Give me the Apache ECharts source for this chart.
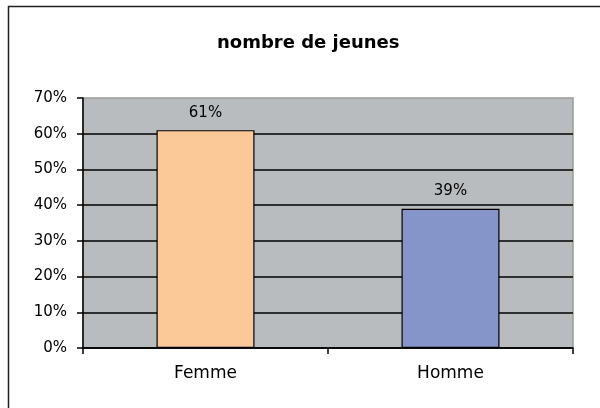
<!DOCTYPE html>
<html>
<head>
<meta charset="utf-8">
<script src="https://cdn.jsdelivr.net/npm/echarts@6/dist/echarts.min.js"></script>
<style>
  html, body { margin: 0; padding: 0; background: #fff; }
  #chart { width: 600px; height: 408px; }
</style>
</head>
<body>
<div id="chart"></div>
<script>
var categories = ['Femme', 'Homme'];
var values = [61, 39];
var barColors = ['#fbc898', '#8595c9'];
var yTicks = [0, 10, 20, 30, 40, 50, 60, 70];

var font = 'DejaVu Sans, Verdana, sans-serif';

var myChart = echarts.init(document.getElementById('chart'));

var option = {
    backgroundColor: '#fff',
    animation: false,
    title: {
        text: 'nombre de jeunes',
        left: 212,
        top: 29,
        textStyle: {
            fontFamily: font,
            fontSize: 18,
            fontWeight: 'bold',
            color: '#000'
        }
    },
    graphic: [{
        type: 'rect',
        shape: { x: 8.5, y: 6.5, width: 620, height: 420 },
        style: { fill: 'none', stroke: '#222', lineWidth: 1.5 },
        silent: true
    }],
    grid: {
        left: 83,
        top: 98,
        right: 27,
        bottom: 60,
        show: true,
        backgroundColor: '#b9bcbf',
        borderColor: '#9a9a9a',
        borderWidth: 1.5
    },
    xAxis: {
        type: 'category',
        data: categories,
        axisLine: { lineStyle: { color: '#000', width: 1.5 } },
        axisTick: { show: true, length: 6, lineStyle: { color: '#000', width: 1.5 } },
        axisLabel: {
            margin: 17,
            fontFamily: font,
            fontSize: 17,
            color: '#000'
        }
    },
    yAxis: {
        type: 'value',
        min: 0,
        max: 70,
        interval: 10,
        axisLine: { show: true, lineStyle: { color: '#000', width: 1.5 } },
        axisTick: { show: true, length: 6, lineStyle: { color: '#000', width: 1.5 } },
        axisLabel: {
            margin: 16,
            formatter: function (v) { return yTicks.indexOf(v) >= 0 ? v + '%' : ''; },
            fontFamily: font,
            fontSize: 15,
            color: '#000'
        },
        splitLine: {
            show: true,
            showMaxLine: false,
            lineStyle: { color: '#000', width: 1.5 }
        }
    },
    series: [{
        type: 'bar',
        barWidth: '40%',
        data: values.map(function (v, i) {
            return { value: v, itemStyle: { color: barColors[i] } };
        }),
        itemStyle: { borderColor: '#000', borderWidth: 1.2 },
        label: {
            show: true,
            position: 'top',
            distance: 10,
            formatter: '{c}%',
            fontFamily: font,
            fontSize: 15,
            color: '#000'
        }
    }]
};

myChart.setOption(option);
</script>
</body>
</html>
